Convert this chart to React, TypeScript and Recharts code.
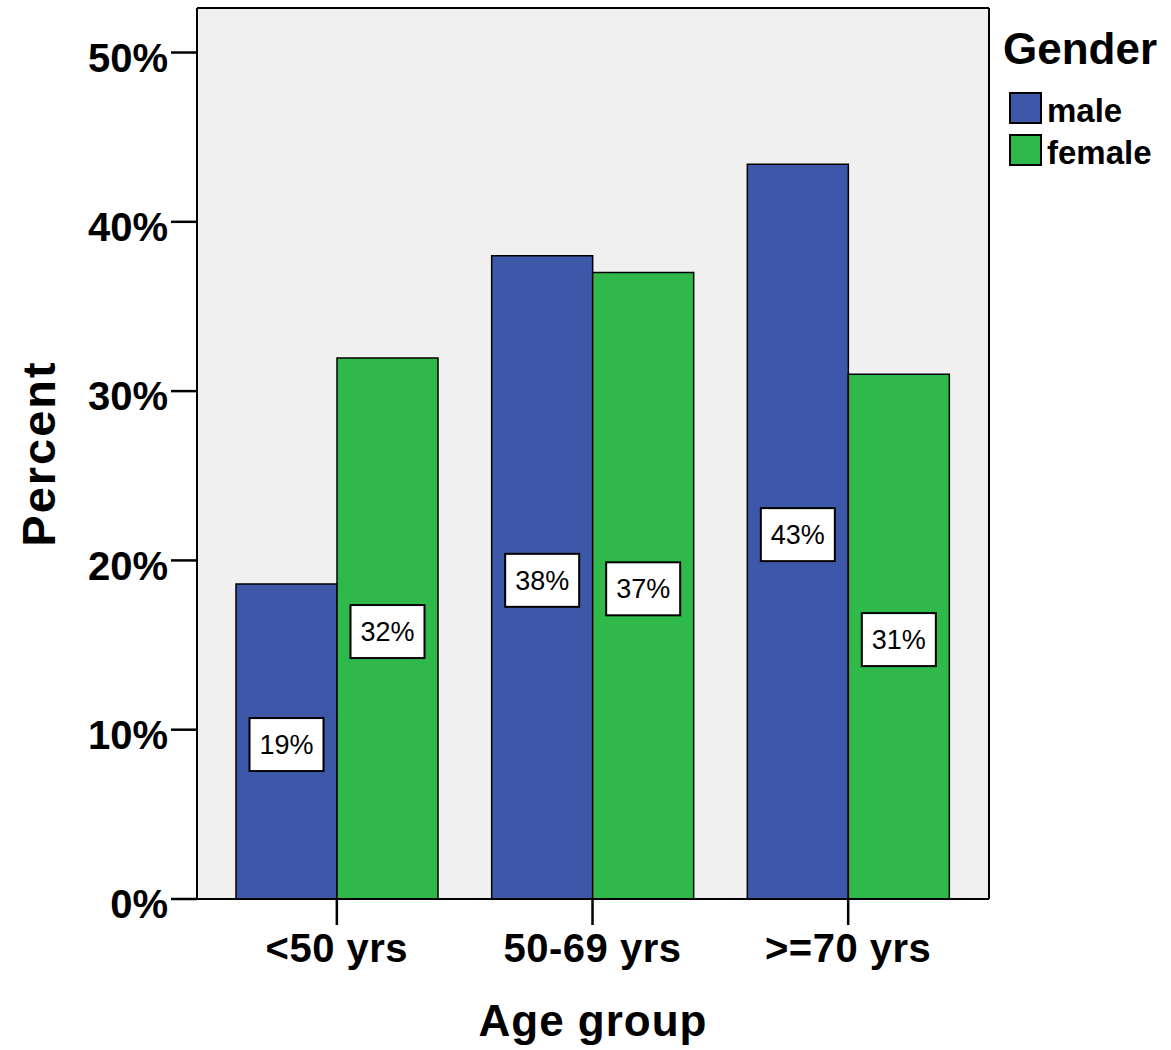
import React from 'react';
import { BarChart, Bar, XAxis, YAxis, CartesianGrid, Legend, LabelList } from 'recharts';

const categories = ['<50 yrs', '50-69 yrs', '>=70 yrs'];
const maleValues = [18.6, 38.0, 43.4];
const femaleValues = [31.95, 37.0, 31.0];
const yTicks = [0, 10, 20, 30, 40, 50];
const yMax = 52.63;
const seriesNames = ['male', 'female'];
const seriesColors = ['#3d58a9', '#2fb94a'];

const data = categories.map((c, i) => ({ cat: c, male: maleValues[i], female: femaleValues[i] }));

const FONT = '"Liberation Sans", Arial, Helvetica, sans-serif';

const YTick = (props: any) => {
  const { x, y, payload } = props;
  return (
    <text x={x} y={y + 5} dy="0.355em" textAnchor="end" fontFamily={FONT} fontWeight="bold" fontSize={40} fill="#000">
      {payload.value}%
    </text>
  );
};

const XTick = (props: any) => {
  const { x, y, payload } = props;
  return (
    <text x={x} y={y + 35} textAnchor="middle" fontFamily={FONT} fontWeight="bold" fontSize={40} fill="#000" letterSpacing={0.5}>
      {payload.value}
    </text>
  );
};

const BoxLabel = (props: any) => {
  const { x, y, width, height, value } = props;
  const cx = Number(x) + Number(width) / 2;
  const cy = Number(y) + Number(height) / 2 + 3;
  const w = 74;
  const h = 53;
  return (
    <g>
      <rect x={cx - w / 2} y={cy - h / 2} width={w} height={h} fill="#fff" stroke="#000" strokeWidth={2} />
      <text x={cx} y={cy} dy="0.355em" textAnchor="middle" fontFamily={FONT} fontSize={27} fill="#000">
        {Math.round(Number(value))}%
      </text>
    </g>
  );
};

const LegendContent = () => (
  <svg width={171} height={175} style={{ display: 'block' }}>
    <text x={3} y={54} fontFamily={FONT} fontWeight="bold" fontSize={44} fill="#000">Gender</text>
    {seriesNames.map((n, i) => (
      <g key={n}>
        <rect x={10} y={83 + i * 42} width={31} height={30} fill={seriesColors[i]} stroke="#000" strokeWidth={2} />
        <text x={47} y={112 + i * 42} fontFamily={FONT} fontWeight="bold" fontSize={33} fill="#000">{n}</text>
      </g>
    ))}
  </svg>
);

const YAxisLabel = (props: any) => {
  const { viewBox } = props;
  const cx = viewBox.x + 38;
  const cy = viewBox.y + viewBox.height / 2;
  return (
    <text x={cx} y={cy} transform={`rotate(-90, ${cx}, ${cy})`} textAnchor="middle" dy="0.355em" fontFamily={FONT} fontWeight="bold" fontSize={47} letterSpacing={2} fill="#000">
      Percent
    </text>
  );
};

const XAxisLabel = (props: any) => {
  const { viewBox } = props;
  const cx = viewBox.x + viewBox.width / 2;
  return (
    <text x={cx} y={1036} textAnchor="middle" fontFamily={FONT} fontWeight="bold" fontSize={44} letterSpacing={1} fill="#000">
      Age group
    </text>
  );
};

// frame lines on the top and right edges of the plot area, derived from the chart offset
const topEdge = ({ offset }: any) => [offset.top];
const rightEdge = ({ offset }: any) => [offset.left + offset.width];

export default function App() {
  return (
    <div style={{ position: 'absolute', left: 0, top: 0, width: 1171, height: 1050, background: '#fff' }}>
      <BarChart
        width={1171}
        height={1050}
        data={data}
        margin={{ top: 8, right: 182, bottom: 0, left: 0 }}
        barGap={0}
        barCategoryGap={27}
      >
        <CartesianGrid
          fill="#f0f0f0"
          stroke="#000"
          strokeWidth={2}
          horizontalCoordinatesGenerator={topEdge}
          verticalCoordinatesGenerator={rightEdge}
        />
        <XAxis
          dataKey="cat"
          height={151}
          padding={{ left: 12, right: 13 }}
          tickSize={26}
          tickMargin={2}
          axisLine={{ stroke: '#000', strokeWidth: 2 }}
          tickLine={{ stroke: '#000', strokeWidth: 2.5 }}
          tick={<XTick />}
          label={<XAxisLabel />}
        />
        <YAxis
          width={197}
          domain={[0, yMax]}
          ticks={yTicks}
          interval={0}
          allowDataOverflow
          tickSize={26}
          tickMargin={3}
          axisLine={{ stroke: '#000', strokeWidth: 2 }}
          tickLine={{ stroke: '#000', strokeWidth: 2.5 }}
          tick={<YTick />}
          label={<YAxisLabel />}
        />
        <Legend
          layout="vertical"
          align="center"
          verticalAlign="middle"
          content={<LegendContent />}
          wrapperStyle={{ position: 'absolute', left: 1000, top: 10, width: 171, height: 175 }}
        />
        <Bar dataKey="male" name="male" fill={seriesColors[0]} stroke="#000" strokeWidth={1.5} isAnimationActive={false}>
          <LabelList dataKey="male" content={<BoxLabel />} />
        </Bar>
        <Bar dataKey="female" name="female" fill={seriesColors[1]} stroke="#000" strokeWidth={1.5} isAnimationActive={false}>
          <LabelList dataKey="female" content={<BoxLabel />} />
        </Bar>
      </BarChart>
    </div>
  );
}
